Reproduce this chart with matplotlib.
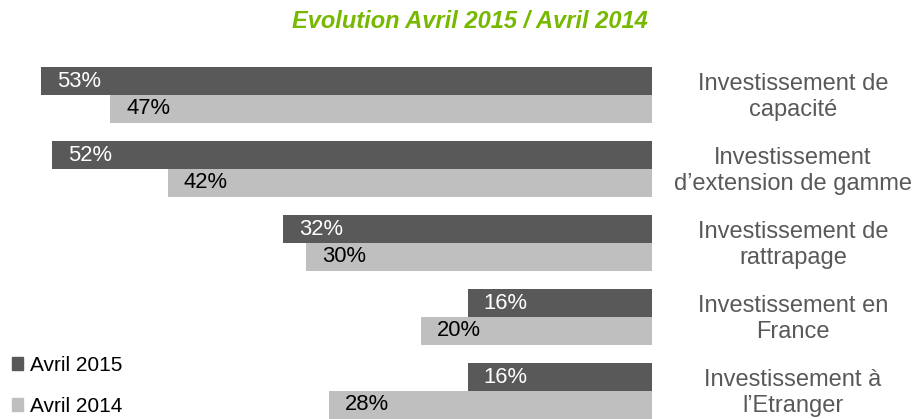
import matplotlib
matplotlib.use("Agg")
import matplotlib.pyplot as plt
import matplotlib.transforms as mtransforms
from matplotlib.patches import Patch
import numpy as np

plt.rcParams['font.family'] = ['Liberation Sans', 'DejaVu Sans']

# data
categories = ["Investissement de\ncapacité",
              "Investissement\nd\u2019extension de gamme",
              "Investissement de\nrattrapage",
              "Investissement en\nFrance",
              "Investissement à\nl\u2019Etranger"]
avril_2015 = [53, 52, 32, 16, 16]
avril_2014 = [47, 42, 30, 20, 28]
series_names = ["Avril 2015", "Avril 2014"]
title = "Evolution Avril 2015 / Avril 2014"

dark = "#595959"
light = "#bfbfbf"
green = "#76b900"

fig = plt.figure(figsize=(9.15, 4.19), dpi=100)
ax = fig.add_axes([0, 0, 652 / 915, 1])

y = np.arange(len(categories))
h = 0.372
ax.barh(y - h / 2, avril_2015, height=h, color=dark, label=series_names[0])
ax.barh(y + h / 2, avril_2014, height=h, color=light, label=series_names[1])

ax.set_xlim(652 / 11.53, 0)
ax.set_ylim(4.378, -1.284)
ax.axis('off')

# value labels near the outer end of each bar
for i in range(len(categories)):
    ax.annotate(f"{avril_2015[i]}%", (avril_2015[i], y[i] - h / 2),
                xytext=(11.5, 0), textcoords='offset points',
                ha='left', va='center', fontsize=15.8, color='white')
    ax.annotate(f"{avril_2014[i]}%", (avril_2014[i], y[i] + h / 2),
                xytext=(11.5, 0), textcoords='offset points',
                ha='left', va='center', fontsize=15.8, color='black')

# category labels on the right
trans = mtransforms.blended_transform_factory(fig.transFigure, ax.transData)
for i, cat in enumerate(categories):
    ax.text(793 / 915, y[i] + 0.03, cat, transform=trans, ha='center',
            va='center', fontsize=17, color=dark, linespacing=1.25,
            clip_on=False)

fig.text(470 / 915, 1 - 22 / 419, title, ha='center', va='center',
         fontsize=17, fontweight='bold', fontstyle='italic', color=green)

handles = [Patch(color=dark), Patch(color=light)]
fig.legend(handles, series_names, loc='lower left',
           bbox_to_anchor=(0.004, -0.012), frameon=False, fontsize=15,
           handlelength=0.55, handleheight=0.55, handletextpad=0.3,
           labelspacing=1.05, borderaxespad=0.0)

fig.savefig("out.png", dpi=100)
